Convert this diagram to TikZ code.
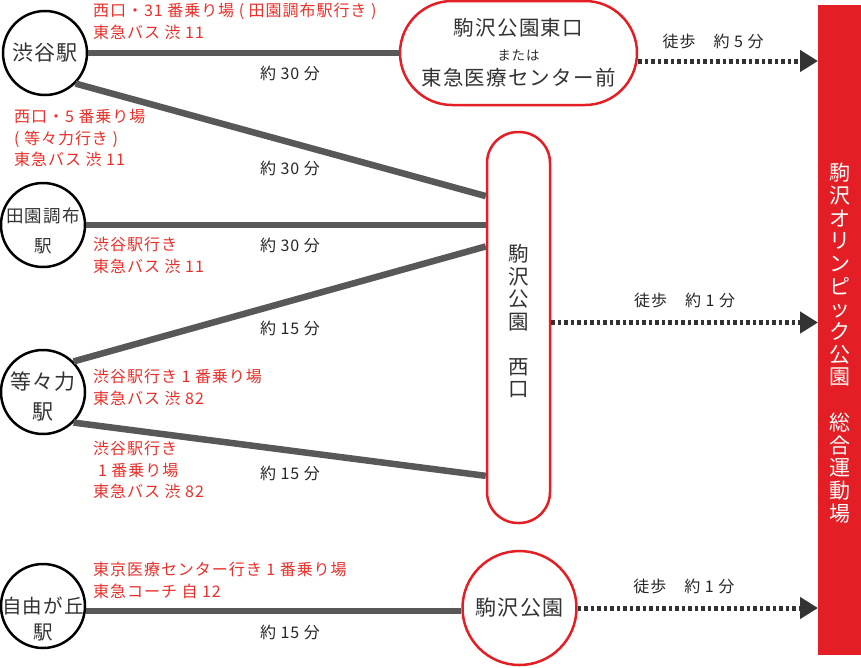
\documentclass[tikz,border=0pt]{standalone}
\usepackage{fontspec}
\setmainfont{Noto Sans CJK JP}[LetterSpace=6]
\definecolor{LineGray}{RGB}{88, 88, 88}
\definecolor{TextGray}{RGB}{51, 51, 51}
\definecolor{StopRed}{RGB}{227, 30, 36}
\definecolor{RouteRed}{RGB}{232, 48, 42}
\usetikzlibrary{arrows.meta, positioning, calc}

\begin{document}
\begin{tikzpicture}[x=1pt, y=-1pt,
    station/.style={draw=black, circle, line width=2.5pt, fill=white, minimum size=84pt, inner sep=0pt},
    stname/.style={align=center, text=TextGray, inner sep=0pt, font=\fontsize{21}{29}\selectfont},
    stop/.style={draw=StopRed, line width=2.5pt, fill=white, align=center, text=TextGray, inner sep=0pt},
    bus/.style={draw=LineGray, line width=6.5pt},
    walk/.style={draw=TextGray, line width=5pt, dash pattern=on 3.5pt off 3pt, -{Triangle[length=18pt, width=21pt]}},
    route/.style={anchor=north west, inner sep=0pt, align=left, text=RouteRed, font=\fontsize{16}{21.5}\selectfont},
    time/.style={inner sep=0pt, text=black!85, font=\fontsize{16}{18}\selectfont}]

    \useasboundingbox (0,0) rectangle (861,667);

    % Nodes
    \node [station] (shibuya) at (45,53) {};
    \node [station] (denen) at (43,225) {};
    \node [station] (tdrk) at (43,392) {};
    \node [station] (jiyu) at (43,606) {};
    \node [stname] (shibuyalbl) at (shibuya) {渋谷駅};
    \node [stname, font=\fontsize{17.5}{29.5}\selectfont] (denenlbl) at ([yshift=-6pt]denen.center) {田園調布\\駅};
    \node [stname, font=\fontsize{21}{30}\selectfont] (tdrklbl) at ([yshift=-5pt]tdrk.center) {等々力\\駅};
    \node [stname, font=\fontsize{19.5}{26}\selectfont] (jiyulbl) at ([yshift=-13pt]jiyu.center) {自由が丘\\駅};

    \node [stop, rounded corners=52pt, minimum width=237pt, minimum height=104pt, font=\fontsize{20.5}{25}\selectfont] (higashi) at (518.5,53)
        {駒沢公園東口\\{\fontsize{13.5}{16}\selectfont または}\\東急医療センター前};
    \node [stop, rounded corners=31pt, minimum width=63pt, minimum height=391pt] (west) at (518.5,327.5) {};
    \node [text=TextGray, align=center, font=\fontsize{20.5}{22.5}\selectfont] (westtext) at (518.5,321) {駒\\沢\\公\\園\\　\\西\\口};
    \node [stop, circle, minimum size=114pt, font=\fontsize{21}{24}\selectfont] (koen) at (519.5,608) {駒沢公園};

    \node [fill=StopRed, minimum width=43pt, minimum height=650pt, inner sep=0pt, anchor=north west] (bar) at (818,5) {};
    \node [text=white, align=center, font=\fontsize{21}{22.7}\selectfont] (bartext) at (840,343)
        {駒\\沢\\オ\\リ\\ン\\ピ\\ッ\\ク\\公\\園\\　\\総\\合\\運\\動\\場};

    % Connectors
    \draw [bus] (shibuya.east) -- (higashi.west);
    \draw [bus] (shibuya.south east) -- ($(west.north west)!0.166!(west.south west)$);
    \draw [bus] (denen.east) -- (denen.east -| west.west);
    \draw [bus] (tdrk.north east) -- ($(west.north west)!0.294!(west.south west)$);
    \draw [bus] (tdrk.south east) -- ($(west.north west)!0.877!(west.south west)$);
    \draw [bus] ([yshift=-5pt]jiyu.east) -- ([yshift=-5pt]jiyu.east -| koen.west);

    \draw [walk] ([yshift=-8pt]higashi.east) -- ([yshift=-8pt]higashi.east -| bar.west)
        node [midway, above=10pt, xshift=-15pt, time] {徒歩　約 5 分};
    \draw [walk] ([yshift=5pt]west.east) -- ([yshift=5pt]west.east -| bar.west)
        node [midway, above=12pt, time] {徒歩　約 1 分};
    \draw [walk] (koen.east) -- (koen.east -| bar.west)
        node [midway, above=12pt, xshift=-14pt, time] {徒歩　約 1 分};

    % Labels
    \node [route] (r1) at (93,3) {西口・31 番乗り場 ( 田園調布駅行き )\\東急バス 渋 11};
    \node [route] (r2) at (14,109) {西口・5 番乗り場\\( 等々力行き )\\東急バス 渋 11};
    \node [route] (r3) at (93,237) {渋谷駅行き\\東急バス 渋 11};
    \node [route] (r4) at (93,369) {渋谷駅行き 1 番乗り場\\東急バス 渋 82};
    \node [route] (r5) at (93,441) {渋谷駅行き\\\hspace{0.3em}1 番乗り場\\東急バス 渋 82};
    \node [route] (r6) at (93,562) {東京医療センター行き 1 番乗り場\\東急コーチ 自 12};

    \node [time] (t1) at (290,73) {約 30 分};
    \node [time] (t2) at (290,168) {約 30 分};
    \node [time] (t3) at (290,245) {約 30 分};
    \node [time] (t4) at (290,328) {約 15 分};
    \node [time] (t5) at (290,473) {約 15 分};
    \node [time] (t6) at (290,632) {約 15 分};
  \end{tikzpicture}
\end{document}
